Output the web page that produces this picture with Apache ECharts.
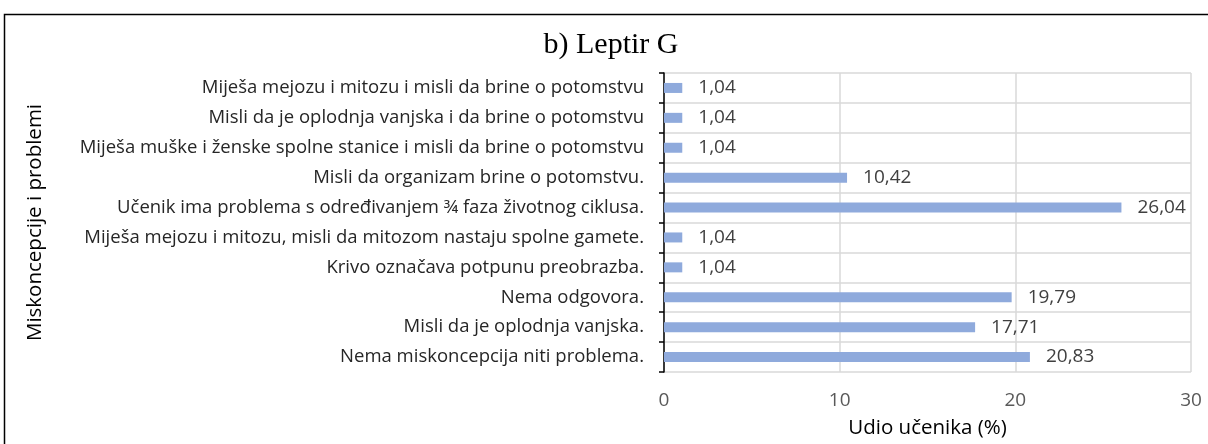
<!DOCTYPE html>
<html>
<head>
<meta charset="utf-8">
<script src="https://cdn.jsdelivr.net/npm/echarts@6/dist/echarts.min.js"></script>
<style>html,body{margin:0;padding:0;background:#fff}#c{width:1208px;height:444px}</style>
</head>
<body>
<div id="c"></div>
<script>
const categories = [
  "Miješa mejozu i mitozu i misli da brine o potomstvu",
  "Misli da je oplodnja vanjska i da brine o potomstvu",
  "Miješa muške i ženske spolne stanice i misli da brine o potomstvu",
  "Misli da organizam brine o potomstvu.",
  "Učenik ima problema s određivanjem ¾ faza životnog ciklusa.",
  "Miješa mejozu i mitozu, misli da mitozom nastaju spolne gamete.",
  "Krivo označava potpunu preobrazba.",
  "Nema odgovora.",
  "Misli da je oplodnja vanjska.",
  "Nema miskoncepcija niti problema."
];
const values = [1.04, 1.04, 1.04, 10.42, 26.04, 1.04, 1.04, 19.79, 17.71, 20.83];
const xTicks = [0, 10, 20, 30];
const titleText = "b) Leptir G";
const xName = "Udio učenika (%)";
const yName = "Miskoncepcije i problemi";

const chart = echarts.init(document.getElementById('c'), null, {renderer: 'canvas'});
const font = "'Open Sans', sans-serif";
chart.setOption({
  animation: false,
  grid: {left: 664, right: 17, top: 73, bottom: 69, containLabel: false},
  graphic: [
    {type: 'rect', shape: {x: 4.5, y: 14.5, width: 1400, height: 600}, style: {fill: 'none', stroke: '#000', lineWidth: 1.5}, silent: true},
    {type: 'text', x: 611, y: 45, style: {text: titleText, font: "30px 'Liberation Serif', serif", fill: '#000', align: 'center', verticalAlign: 'middle'}}
  ],
  xAxis: {
    type: 'value', min: xTicks[0], max: xTicks[xTicks.length - 1], interval: 10,
    name: xName, nameLocation: 'middle', nameGap: 46,
    nameTextStyle: {fontFamily: font, fontSize: 20.5, color: '#000'},
    axisLine: {show: false}, axisTick: {show: false},
    axisLabel: {fontFamily: font, fontSize: 19, color: '#595959', margin: 19},
    splitLine: {show: true, lineStyle: {color: '#d9d9d9', width: 1.5}}
  },
  yAxis: {
    type: 'category', data: categories, inverse: true,
    name: yName, nameLocation: 'middle', nameGap: 618, nameRotate: 90,
    nameTextStyle: {fontFamily: font, fontSize: 20.5, color: '#000'},
    axisLine: {show: true, lineStyle: {color: '#000', width: 1.5}},
    axisTick: {show: true, length: 5, lineStyle: {color: '#000', width: 1.5}},
    axisLabel: {fontFamily: font, fontSize: 18.5, color: '#262626', margin: 20},
    splitLine: {show: true, lineStyle: {color: '#d9d9d9', width: 1.5}}
  },
  series: [{
    type: 'bar', data: values, barWidth: 10,
    itemStyle: {color: '#8faadc'},
    label: {
      show: true, position: 'right', distance: 16,
      fontFamily: font, fontSize: 19, color: '#404040',
      formatter: p => p.value.toFixed(2).replace('.', ',')
    }
  }]
});
</script>
</body>
</html>
